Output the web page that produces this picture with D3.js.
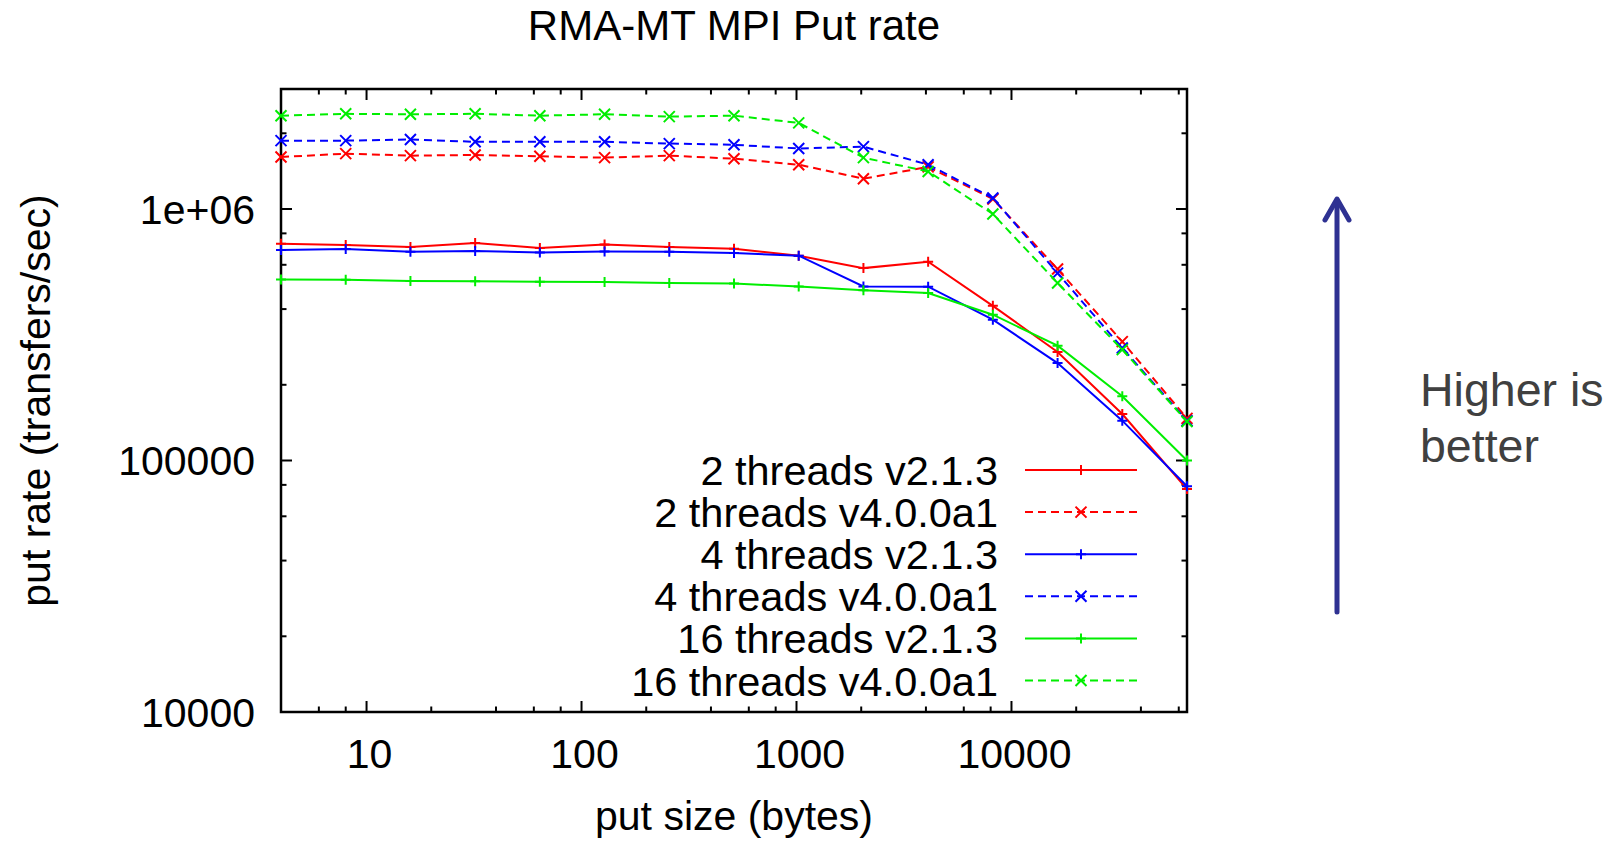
<!DOCTYPE html>
<html>
<head>
<meta charset="utf-8">
<script src="https://cdn.jsdelivr.net/npm/d3@7"></script>
<style>
  body { margin: 0; background: #fff; }
  svg text { font-family: "Liberation Sans", Arial, Helvetica, sans-serif; }
</style>
</head>
<body>
<svg id="chart"></svg>
<script>
// put size in bytes (2^2 .. 2^16)
const putSizes = [4, 8, 16, 32, 64, 128, 256, 512, 1024, 2048, 4096, 8192, 16384, 32768, 65536];

// put rate, transfers/sec
const rate2v213  = [728000, 719000, 706000, 732000, 700000, 723000, 706000, 695000, 652000, 582000, 617000, 412000, 270000, 153000, 77000];
const rate2v400  = [1610000, 1660000, 1630000, 1640000, 1620000, 1600000, 1630000, 1585000, 1500000, 1320000, 1470000, 1096000, 577000, 297000, 147000];
const rate4v213  = [687000, 693000, 676000, 681000, 672000, 678000, 676000, 668000, 652000, 492000, 491000, 363000, 244000, 144000, 79000];
const rate4v400  = [1870000, 1870000, 1890000, 1850000, 1850000, 1850000, 1820000, 1800000, 1740000, 1770000, 1500000, 1106000, 556000, 280000, 144000];
const rate16v213 = [525000, 523000, 517000, 516000, 514000, 513000, 508000, 505000, 492000, 475000, 463000, 380000, 286000, 180000, 100000];
const rate16v400 = [2350000, 2390000, 2380000, 2390000, 2350000, 2380000, 2330000, 2350000, 2200000, 1600000, 1410000, 955000, 508000, 276000, 143000];

const seriesNames = ['2 threads v2.1.3', '2 threads v4.0.0a1', '4 threads v2.1.3', '4 threads v4.0.0a1', '16 threads v2.1.3', '16 threads v4.0.0a1'];
const seriesColors = ['#ff0000', '#ff0000', '#0000ff', '#0000ff', '#00ee00', '#00ee00'];
const seriesMarkers = ['plus', 'cross', 'plus', 'cross', 'plus', 'cross'];
const seriesDashed = [false, true, false, true, false, true];
const seriesValues = [rate2v213, rate2v400, rate4v213, rate4v400, rate16v213, rate16v400];

const xDomain = [4, 65536];
const yDomain = [10000, 3000000];
const xMajorTicks = [10, 100, 1000, 10000];
const xMinorTicks = [6, 8, 20, 40, 60, 80, 200, 400, 600, 800, 2000, 4000, 6000, 8000, 20000, 40000, 60000];
const yMajorTicks = [10000, 100000, 1000000];
const yMinorTicks = [20000, 40000, 60000, 80000, 200000, 400000, 600000, 800000, 2000000];
const yTickLabels = ['10000', '100000', '1e+06'];

class RateChart {
  constructor(_config) {
    this.config = {
      parentElement: _config.parentElement,
      containerWidth: _config.containerWidth || 1621,
      containerHeight: _config.containerHeight || 844
    };
    this.config.margin = _config.margin || { top: 89, bottom: 132, left: 281, right: 434 };
    this.config.width = this.config.containerWidth - this.config.margin.left - this.config.margin.right;
    this.config.height = this.config.containerHeight - this.config.margin.top - this.config.margin.bottom;
    this.svg = d3.select(this.config.parentElement)
        .attr('width', this.config.containerWidth)
        .attr('height', this.config.containerHeight);
  }

  initVis() {
    let vis = this;

    vis.chart = vis.svg.append('g')
        .attr('transform', `translate(${vis.config.margin.left}, ${vis.config.margin.top})`);

    vis.xScale = d3.scaleLog().domain(xDomain).range([0, vis.config.width]);
    vis.yScale = d3.scaleLog().domain(yDomain).range([vis.config.height, 0]);

    vis.series = seriesNames.map((name, i) => ({
      name: name,
      color: seriesColors[i],
      marker: seriesMarkers[i],
      dashed: seriesDashed[i],
      values: putSizes.map((s, j) => ({ size: s, rate: seriesValues[i][j] }))
    }));

    vis.render();
  }

  render() {
    let vis = this;
    const w = vis.config.width, h = vis.config.height;

    // frame
    vis.chart.append('rect')
        .attr('width', w)
        .attr('height', h)
        .attr('fill', 'none')
        .attr('stroke', '#000')
        .attr('stroke-width', 2.5);

    // ticks on all four sides, pointing inward (gnuplot style)
    const tickGroup = vis.chart.append('g').attr('stroke', '#000').attr('stroke-width', 2);
    const addTicks = (vals, len) => {
      vals.forEach(v => {
        const x = vis.xScale(v);
        tickGroup.append('line').attr('x1', x).attr('x2', x).attr('y1', h).attr('y2', h - len);
        tickGroup.append('line').attr('x1', x).attr('x2', x).attr('y1', 0).attr('y2', len);
      });
    };
    const addYTicks = (vals, len) => {
      vals.forEach(v => {
        const y = vis.yScale(v);
        tickGroup.append('line').attr('x1', 0).attr('x2', len).attr('y1', y).attr('y2', y);
        tickGroup.append('line').attr('x1', w).attr('x2', w - len).attr('y1', y).attr('y2', y);
      });
    };
    addTicks(xMajorTicks, 11);
    addTicks(xMinorTicks, 5.5);
    addYTicks(yMajorTicks, 11);
    addYTicks(yMinorTicks, 5.5);

    // tick labels
    vis.chart.append('g').selectAll('text')
        .data(xMajorTicks)
        .join('text')
        .attr('x', d => vis.xScale(d) + 3)
        .attr('y', h + 56)
        .attr('text-anchor', 'middle')
        .attr('font-size', 41)
        .text(d => d);

    vis.chart.append('g').selectAll('text')
        .data(yMajorTicks)
        .join('text')
        .attr('x', -26)
        .attr('y', d => vis.yScale(d) + 15)
        .attr('text-anchor', 'end')
        .attr('font-size', 41)
        .text((d, i) => yTickLabels[i]);

    // axis titles and chart title
    vis.chart.append('text')
        .attr('x', w / 2)
        .attr('y', h + 118)
        .attr('text-anchor', 'middle')
        .attr('font-size', 41)
        .text('put size (bytes)');

    vis.chart.append('text')
        .attr('transform', `translate(${50 - vis.config.margin.left}, ${h / 2}) rotate(-90)`)
        .attr('text-anchor', 'middle')
        .attr('font-size', 41)
        .text('put rate (transfers/sec)');

    vis.chart.append('text')
        .attr('x', w / 2)
        .attr('y', 40 - vis.config.margin.top)
        .attr('text-anchor', 'middle')
        .attr('font-size', 42)
        .text('RMA-MT MPI Put rate');

    // lines + markers
    const line = d3.line()
        .x(d => vis.xScale(d.size))
        .y(d => vis.yScale(d.rate));

    vis.series.forEach(s => {
      const g = vis.chart.append('g');
      g.append('path')
          .attr('d', line(s.values))
          .attr('fill', 'none')
          .attr('stroke', s.color)
          .attr('stroke-width', 2)
          .attr('stroke-dasharray', s.dashed ? '8,5' : null);
      g.selectAll('path.marker')
          .data(s.values)
          .join('path')
          .attr('class', 'marker')
          .attr('d', d => vis.markerPath(s.marker, vis.xScale(d.size), vis.yScale(d.rate)))
          .attr('fill', 'none')
          .attr('stroke', s.color)
          .attr('stroke-width', 2);
    });

    // legend
    const legend = vis.chart.append('g');
    vis.series.forEach((s, i) => {
      const y = 470 - vis.config.margin.top + i * 42.1;
      legend.append('text')
          .attr('x', 998 - vis.config.margin.left)
          .attr('y', y + 15)
          .attr('text-anchor', 'end')
          .attr('font-size', 41.5)
          .text(s.name);
      legend.append('line')
          .attr('x1', 1025 - vis.config.margin.left)
          .attr('x2', 1137 - vis.config.margin.left)
          .attr('y1', y).attr('y2', y)
          .attr('stroke', s.color)
          .attr('stroke-width', 2)
          .attr('stroke-dasharray', s.dashed ? '8,5' : null);
      legend.append('path')
          .attr('d', vis.markerPath(s.marker, 1081 - vis.config.margin.left, y))
          .attr('fill', 'none')
          .attr('stroke', s.color)
          .attr('stroke-width', 2);
    });

    // "higher is better" annotation
    const note = vis.svg.append('g');
    note.append('line')
        .attr('x1', 1337).attr('x2', 1337)
        .attr('y1', 612).attr('y2', 201)
        .attr('stroke', '#2e3192')
        .attr('stroke-width', 5)
        .attr('stroke-linecap', 'round');
    note.append('polyline')
        .attr('points', '1325,220 1337,199 1349,220')
        .attr('fill', 'none')
        .attr('stroke', '#2e3192')
        .attr('stroke-width', 5)
        .attr('stroke-linecap', 'round')
        .attr('stroke-linejoin', 'round');
    note.append('text')
        .attr('x', 1420).attr('y', 406)
        .attr('font-size', 46.5)
        .attr('fill', '#404040')
        .text('Higher is');
    note.append('text')
        .attr('x', 1420).attr('y', 462)
        .attr('font-size', 46.5)
        .attr('fill', '#404040')
        .text('better');
  }

  markerPath(type, x, y) {
    if (type === 'plus') {
      const r = 5;
      return `M${x - r},${y}H${x + r}M${x},${y - r}V${y + r}`;
    } else {
      const r = 5.5;
      return `M${x - r},${y - r}L${x + r},${y + r}M${x - r},${y + r}L${x + r},${y - r}`;
    }
  }
}

const chart = new RateChart({ parentElement: '#chart' });
chart.initVis();
</script>
</body>
</html>
